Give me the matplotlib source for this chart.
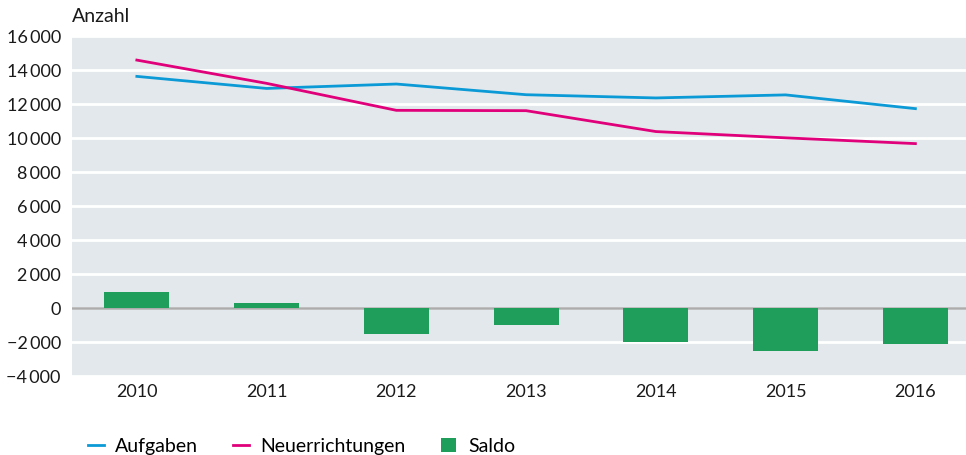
import numpy as np
import matplotlib.pyplot as plt

plt.rcParams['font.family'] = ['Lato', 'DejaVu Sans']

years = ['2010', '2011', '2012', '2013', '2014', '2015', '2016']
aufgaben = [13650, 12940, 13200, 12570, 12380, 12560, 11750]
neuerrichtungen = [14610, 13240, 11650, 11630, 10400, 10030, 9690]
saldo = [920, 290, -1530, -990, -2000, -2535, -2100]
yticks = [-4000, -2000, 0, 2000, 4000, 6000, 8000, 10000, 12000, 14000, 16000]


def fmt(v):
    s = '{:,}'.format(abs(v)).replace(',', '\u2009')
    return ('\u2212' if v < 0 else '') + s


fig = plt.figure(figsize=(9.66, 4.55), dpi=100)
ax = fig.add_axes([0.0745, 0.1736, 0.9255, 0.7462])
ax.set_facecolor('#e3e8ec')

x = np.arange(len(years))
ax.bar(x, saldo, width=0.5, color='#1e9e5a', label='Saldo', zorder=3)
ax.plot(x, aufgaben, color='#0b9ad6', lw=2, label='Aufgaben', zorder=4)
ax.plot(x, neuerrichtungen, color='#e0007a', lw=2, label='Neuerrichtungen', zorder=4)
ax.axhline(0, color='#acacac', lw=1.8, zorder=2)

ax.set_ylim(-4000, 16000)
ax.set_xlim(-0.5, 6.39)
ax.set_yticks(yticks)
ax.set_yticklabels([fmt(v) for v in yticks])
ax.set_xticks(x)
ax.set_xticklabels(years)
ax.yaxis.grid(True, color='white', lw=2)
ax.set_axisbelow(True)
for s in ax.spines.values():
    s.set_visible(False)
ax.tick_params(length=0, labelsize=13, colors='#1a1a1a')
ax.tick_params(axis='y', pad=8)
ax.tick_params(axis='x', pad=6)

fig.text(0.0745, 0.945, 'Anzahl', fontsize=14, color='#1a1a1a', va='bottom')

h, l = ax.get_legend_handles_labels()
fig.legend(h, l, loc='lower left',
           bbox_to_anchor=(0.073, -0.038), ncol=3, frameon=False, fontsize=14,
           handlelength=0.8, handletextpad=0.6, columnspacing=1.8)

fig.savefig('out.png', dpi=100)
